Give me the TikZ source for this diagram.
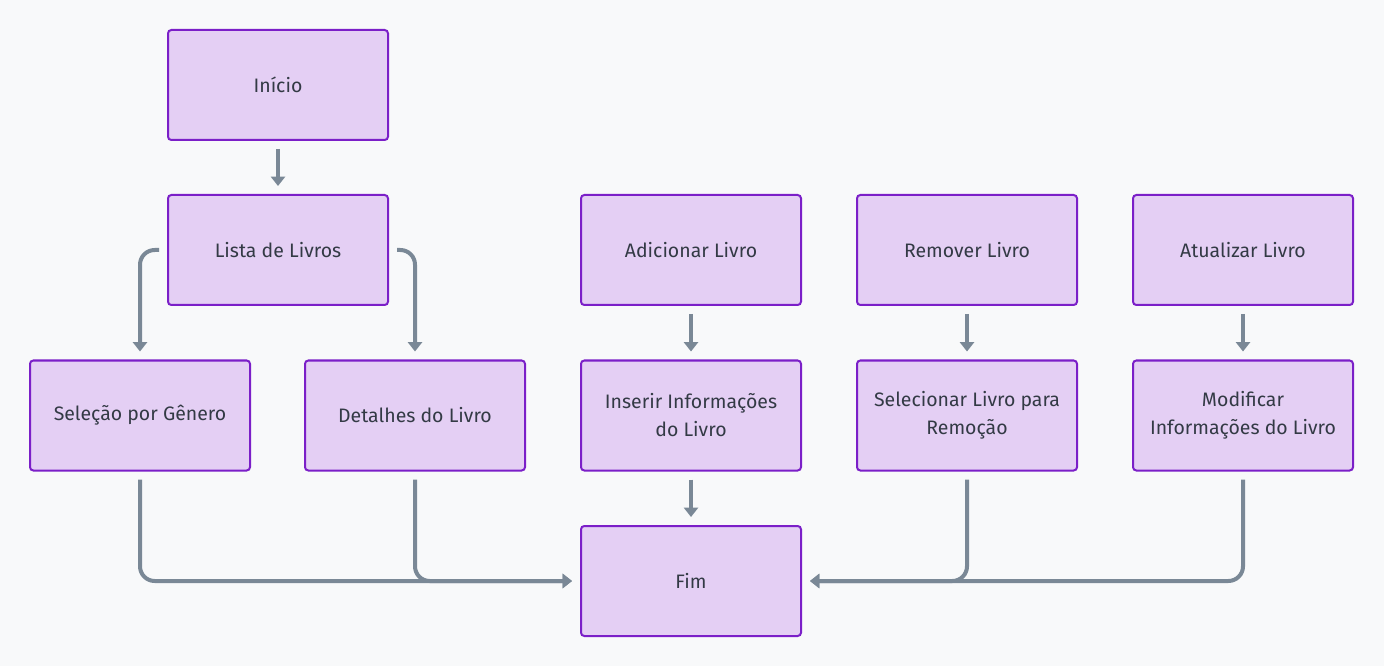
\documentclass[tikz,border=0pt]{standalone}
\usepackage{fontspec}
\setmainfont{Fira Sans}
\usetikzlibrary{arrows.meta}
\definecolor{bgcol}{HTML}{F8F9FA}
\definecolor{boxfill}{HTML}{E4CFF4}
\definecolor{boxline}{HTML}{7B1FC8}
\definecolor{arrcol}{HTML}{7A8896}
\definecolor{txtcol}{HTML}{333A45}
\begin{document}
\begin{tikzpicture}[x=0.75pt,y=0.75pt,yscale=-1,xscale=1,
    stepbox/.style={draw=boxline,fill=boxfill,line width=1.5pt,rounded corners=2.5pt,minimum width=165pt,minimum height=82.5pt,align=center,text=txtcol,font=\fontsize{14.6}{21}\selectfont},
    flow/.style={draw=arrcol,line width=3pt,-{Triangle[width=10.5pt,length=7pt]},shorten <=6pt,shorten >=6pt,rounded corners=11pt}]
\useasboundingbox [fill=bgcol] (0,0) rectangle (1384,666);

\node [stepbox] (inicio) at (278,85) {Início};
\node [stepbox] (lista) at (278,250) {Lista de Livros};
\node [stepbox] (adicionar) at (691,250) {Adicionar Livro};
\node [stepbox] (remover) at (967,250) {Remover Livro};
\node [stepbox] (atualizar) at (1243,250) {Atualizar Livro};
\node [stepbox] (selecao) at (140,415.5) {Seleção por Gênero};
\node [stepbox] (detalhes) at (415,415.5) {Detalhes do Livro};
\node [stepbox] (inserir) at (691,415.5) {Inserir Informações\\do Livro};
\node [stepbox] (selecionar) at (967,415.5) {Selecionar Livro para\\Remoção};
\node [stepbox] (modificar) at (1243,415.5) {Modificar\\Informações do Livro};
\node [stepbox] (fim) at (691,581) {Fim};

\draw [flow] (inicio) -- (lista);
\draw [flow] (lista.west) -| (selecao.north);
\draw [flow] (lista.east) -| (detalhes.north);
\draw [flow] (adicionar) -- (inserir);
\draw [flow] (remover) -- (selecionar);
\draw [flow] (atualizar) -- (modificar);
\draw [flow] (inserir) -- (fim);
\draw [flow] (selecao.south) |- (fim.west);
\draw [flow] (detalhes.south) |- (fim.west);
\draw [flow] (selecionar.south) |- (fim.east);
\draw [flow] (modificar.south) |- (fim.east);
\end{tikzpicture}
\end{document}
